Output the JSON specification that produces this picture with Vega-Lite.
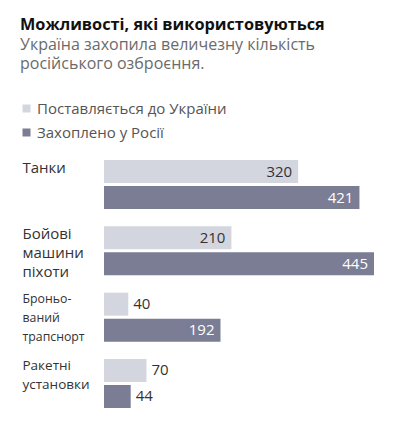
{
  "$schema": "https://vega.github.io/schema/vega-lite/v6.json",
  "width": 270,
  "height": 248,
  "autosize": {"type": "none"},
  "padding": {"left": 104, "top": 160, "right": 22, "bottom": 15},
  "background": "white",
  "title": {
    "text": "Можливості, які використовуються",
    "subtitle": ["Україна захопила величезну кількість", "російського озброєння."],
    "anchor": "start",
    "frame": "group",
    "dx": -84,
    "offset": 29,
    "font": "Open Sans",
    "fontSize": 16.3,
    "fontWeight": "bold",
    "color": "#111111",
    "subtitleFont": "Open Sans",
    "subtitleFontSize": 16,
    "subtitleColor": "#6b6b6b",
    "subtitleLineHeight": 19,
    "subtitlePadding": 4
  },
  "config": {
    "view": {"stroke": null},
    "font": "Open Sans"
  },
  "data": {
    "values": [
      {"cat": "Танки", "series": "Поставляється до України", "value": 320},
      {"cat": "Танки", "series": "Захоплено у Росії", "value": 421},
      {"cat": "Бойові|машини|піхоти", "series": "Поставляється до України", "value": 210},
      {"cat": "Бойові|машини|піхоти", "series": "Захоплено у Росії", "value": 445},
      {"cat": "Броньо-|ваний|трапснорт", "series": "Поставляється до України", "value": 40},
      {"cat": "Броньо-|ваний|трапснорт", "series": "Захоплено у Росії", "value": 192},
      {"cat": "Ракетні|установки", "series": "Поставляється до України", "value": 70},
      {"cat": "Ракетні|установки", "series": "Захоплено у Росії", "value": 44}
    ]
  },
  "encoding": {
    "y": {
      "field": "cat",
      "type": "nominal",
      "sort": null,
      "scale": {"paddingInner": 0.261, "paddingOuter": 0},
      "axis": {
        "title": null,
        "domain": false,
        "ticks": false,
        "tickSize": 0,
        "labelAlign": "left",
        "labelBaseline": "top",
        "labelPadding": 82,
        "labelOffset": -24,
        "labelLimit": 0,
        "labelLineHeight": 19,
        "labelFont": "Open Sans",
        "labelFontSize": {"condition": [{"test": "indexof(datum.label, 'Броньо') >= 0", "value": 12.3}, {"test": "indexof(datum.label, 'Ракетні') >= 0", "value": 13.5}], "value": 15},
        "labelFontWeight": {"condition": {"test": "indexof(datum.label, 'Ракетні') >= 0", "value": 500}, "value": 400},
        "labelColor": "#333333",
        "labelExpr": "split(datum.label, '|')"
      }
    },
    "yOffset": {
      "field": "series",
      "type": "nominal",
      "sort": ["Поставляється до України", "Захоплено у Росії"],
      "scale": {"paddingInner": 0.1154, "paddingOuter": 0}
    },
    "x": {
      "field": "value",
      "type": "quantitative",
      "scale": {"domain": [0, 445], "nice": false},
      "axis": null
    }
  },
  "layer": [
    {
      "mark": {"type": "bar"},
      "encoding": {
        "color": {
          "field": "series",
          "type": "nominal",
          "sort": ["Поставляється до України", "Захоплено у Росії"],
          "scale": {"domain": ["Поставляється до України", "Захоплено у Росії"], "range": ["#d3d6df", "#7a7d93"]},
          "legend": {
            "title": null,
            "orient": "none",
            "legendX": -85,
            "legendY": -59,
            "direction": "vertical",
            "symbolType": "square",
            "symbolSize": 64,
            "symbolStrokeWidth": 0,
            "symbolOpacity": 1,
            "labelOffset": 3,
            "labelLimit": 0,
            "labelFont": "Open Sans",
            "labelFontSize": 15,
            "labelColor": "#555555",
            "rowPadding": 8,
            "padding": 0
          }
        }
      }
    },
    {
      "transform": [{"filter": "datum.value >= 100"}],
      "mark": {"type": "text", "align": "right", "baseline": "middle", "dx": -6, "fontSize": 15, "font": "Open Sans"},
      "encoding": {
        "text": {"field": "value", "type": "quantitative"},
        "color": {
          "condition": {"test": "datum.series === 'Захоплено у Росії'", "value": "#ffffff"},
          "value": "#333333"
        }
      }
    },
    {
      "transform": [{"filter": "datum.value < 100"}],
      "mark": {"type": "text", "align": "left", "baseline": "middle", "dx": 5, "fontSize": 15, "font": "Open Sans", "color": "#333333"},
      "encoding": {
        "text": {"field": "value", "type": "quantitative"}
      }
    }
  ]
}
